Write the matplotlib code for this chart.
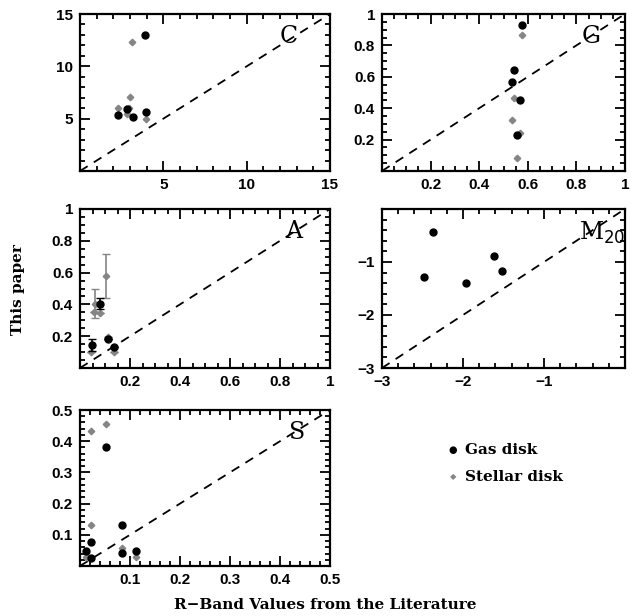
import matplotlib
matplotlib.use("Agg")
import matplotlib.pyplot as plt
from matplotlib.ticker import MultipleLocator
import numpy as np

# ---- data ----
C_gas_x = [3.88, 2.29, 2.81, 3.15, 3.98]
C_gas_y = [13.0, 5.33, 5.97, 5.17, 5.59]
C_st_x = [3.10, 2.97, 2.29, 2.95, 2.81, 3.98]
C_st_y = [12.3, 7.09, 6.06, 6.06, 5.49, 5.01]

G_gas_x = [0.578, 0.545, 0.536, 0.568, 0.556]
G_gas_y = [0.929, 0.641, 0.566, 0.453, 0.229]
G_st_x = [0.578, 0.545, 0.536, 0.567, 0.556]
G_st_y = [0.865, 0.466, 0.325, 0.241, 0.081]

A_gas_x = [0.046, 0.081, 0.110, 0.134]
A_gas_y = [0.145, 0.405, 0.180, 0.135]
A_gas_err = [0.035, 0.035, 0.0, 0.0]
A_st_x = [0.061, 0.057, 0.081, 0.104, 0.044, 0.110, 0.134]
A_st_y = [0.405, 0.353, 0.349, 0.580, 0.100, 0.195, 0.100]
A_st_err = [0.09, 0.0, 0.0, 0.14, 0.0, 0.0, 0.0]

M_gas_x = [-2.37, -2.48, -1.96, -1.62, -1.52]
M_gas_y = [-0.43, -1.285, -1.39, -0.888, -1.172]

S_gas_x = [0.011, 0.021, 0.021, 0.052, 0.083, 0.083, 0.112]
S_gas_y = [0.048, 0.077, 0.026, 0.382, 0.133, 0.041, 0.048]
S_st_x = [0.021, 0.052, 0.021, 0.011, 0.083, 0.112]
S_st_y = [0.433, 0.454, 0.133, 0.029, 0.059, 0.029]

GRAY = "#858585"
W, H = 634, 616
fig = plt.figure(figsize=(W / 100, H / 100), dpi=100)

def ax_at(x0, y0, x1, y1):
    return fig.add_axes([x0 / W, 1 - y1 / H, (x1 - x0) / W, (y1 - y0) / H])

tickfont = dict(family="Liberation Sans", weight="bold", size=11)

def style(ax, lo, hi, major, minor, ticks, letter, letter_xy):
    ax.set_xlim(lo, hi)
    ax.set_ylim(lo, hi)
    ax.plot([lo, hi], [lo, hi], ls=(0, (5, 4)), color="black", lw=1.3, zorder=1)
    ax.xaxis.set_major_locator(MultipleLocator(major))
    ax.yaxis.set_major_locator(MultipleLocator(major))
    ax.xaxis.set_minor_locator(MultipleLocator(minor))
    ax.yaxis.set_minor_locator(MultipleLocator(minor))
    ax.set_xticks(ticks)
    ax.set_yticks(ticks)
    ax.set_xticklabels([("%g" % t).replace("-", "\u2212") for t in ticks], **tickfont)
    ax.set_yticklabels([("%g" % t).replace("-", "\u2212") for t in ticks], **tickfont)
    ax.tick_params(which="both", direction="in", top=True, right=True, width=1.3)
    ax.tick_params(which="major", length=7, pad=5)
    ax.tick_params(which="minor", length=3.5)
    for s in ax.spines.values():
        s.set_linewidth(1.6)
    ax.text(letter_xy[0], letter_xy[1], letter, transform=ax.transAxes,
            family="DejaVu Serif", fontsize=17, ha="right", va="top")

def pts(ax, gx, gy, sx, sy):
    if sx is not None:
        ax.plot(sx, sy, ls="none", marker="D", ms=3.3, color=GRAY, mec=GRAY, zorder=2)
    ax.plot(gx, gy, ls="none", marker="o", ms=5.0, color="black", zorder=3)

# C
ax = ax_at(80, 14, 330, 171)
style(ax, 0, 15, 5, 1, [5, 10, 15], "C", (0.87, 0.93))
pts(ax, C_gas_x, C_gas_y, C_st_x, C_st_y)

# G
ax = ax_at(382, 14, 625, 171)
style(ax, 0, 1, 0.2, 0.05, [0.2, 0.4, 0.6, 0.8, 1], "G", (0.90, 0.93))
pts(ax, G_gas_x, G_gas_y, G_st_x, G_st_y)

# A
ax = ax_at(80, 209, 330, 368)
style(ax, 0, 1, 0.2, 0.05, [0.2, 0.4, 0.6, 0.8, 1], "A", (0.89, 0.93))
ax.errorbar(A_st_x, A_st_y, yerr=A_st_err, ls="none", marker="D", ms=3.3,
            color=GRAY, ecolor=GRAY, capsize=3, elinewidth=1.2, zorder=2)
ax.errorbar(A_gas_x, A_gas_y, yerr=A_gas_err, ls="none", marker="o", ms=5.0,
            color="black", ecolor="black", capsize=3, elinewidth=1.2, zorder=3)

# M20
ax = ax_at(382, 209, 625, 368)
style(ax, -3, 0, 1, 0.2, [-3, -2, -1], "M$_{20}$", (1.0, 0.93))
pts(ax, M_gas_x, M_gas_y, None, None)

# S
ax = ax_at(80, 410, 330, 566)
style(ax, 0, 0.5, 0.1, 0.02, [0.1, 0.2, 0.3, 0.4, 0.5], "S", (0.90, 0.93))
pts(ax, S_gas_x, S_gas_y, S_st_x, S_st_y)

# legend
fig.text(453 / W, 1 - 450 / H, "\u25CF", fontsize=7, color="black", ha="center", va="center")
fig.text(453 / W, 1 - 477 / H, "\u25C6", fontsize=6, color=GRAY, ha="center", va="center")
fig.text(465 / W, 1 - 450 / H, "Gas disk", family="DejaVu Serif", weight="bold",
         fontsize=11, va="center")
fig.text(465 / W, 1 - 477 / H, "Stellar disk", family="DejaVu Serif", weight="bold",
         fontsize=11, va="center")

fig.text(18 / W, 1 - 290 / H, "This paper", family="DejaVu Serif", weight="bold",
         fontsize=11, ha="center", va="center", rotation=90)
fig.text(325 / W, 1 - 605 / H, "R\u2212Band Values from the Literature",
         family="DejaVu Serif", weight="bold", fontsize=11, ha="center", va="center")

fig.savefig("out.png", dpi=100)
